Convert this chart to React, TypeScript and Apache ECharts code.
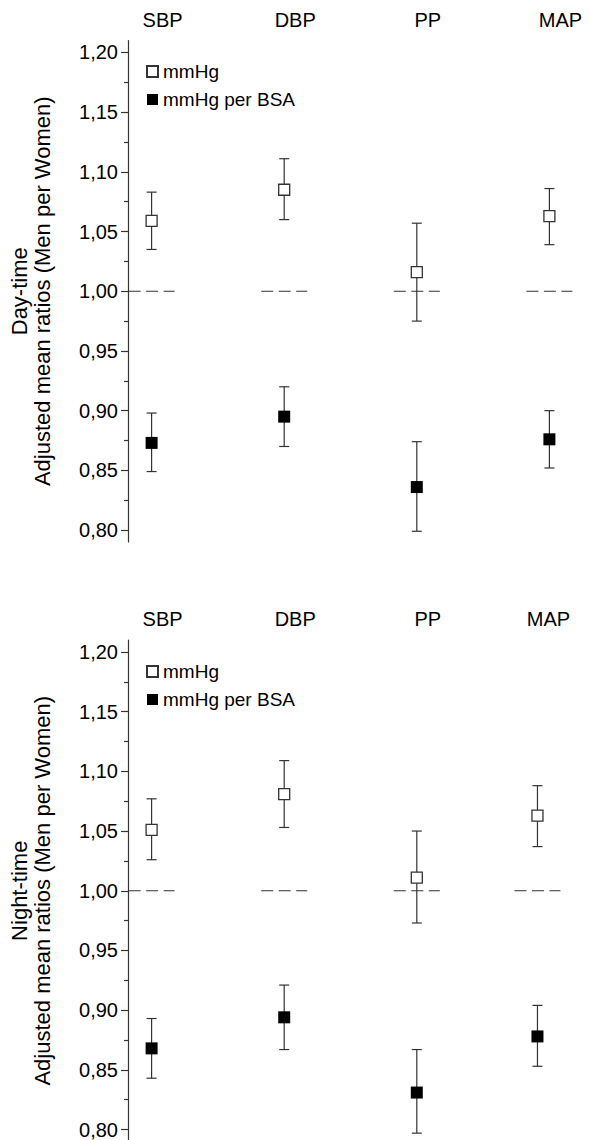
import React, { useEffect, useRef } from "react";
import * as echarts from "echarts";

// ---- data ----
const categories = ["SBP", "DBP", "PP", "MAP"];
const dayPos = [1, 2, 3, 4];
const nightPos = [1, 2, 3, 3.91];
const refValue = 1.0;

const dayMmHg = [1.059, 1.085, 1.016, 1.063];
const dayMmHgLow = [1.035, 1.06, 0.975, 1.039];
const dayMmHgHigh = [1.083, 1.111, 1.057, 1.086];
const dayBsa = [0.873, 0.895, 0.836, 0.876];
const dayBsaLow = [0.849, 0.87, 0.799, 0.852];
const dayBsaHigh = [0.898, 0.92, 0.874, 0.9];

const nightMmHg = [1.051, 1.081, 1.011, 1.063];
const nightMmHgLow = [1.026, 1.053, 0.973, 1.037];
const nightMmHgHigh = [1.077, 1.109, 1.05, 1.088];
const nightBsa = [0.868, 0.894, 0.831, 0.878];
const nightBsaLow = [0.843, 0.867, 0.797, 0.853];
const nightBsaHigh = [0.893, 0.921, 0.867, 0.904];

const yTicks = [0.8, 0.85, 0.9, 0.95, 1.0, 1.05, 1.1, 1.15, 1.2];
const yMinorTicks = [0.825, 0.875, 0.925, 0.975, 1.025, 1.075, 1.125, 1.175];

const FONT = "'Liberation Sans', Arial, sans-serif";
const AXIS_COLOR = "#333";

function errorBarSeries(name: string, pos: number[], lo: number[], hi: number[], xi: number, yi: number) {
  return {
    type: "custom",
    name: name + "-err",
    xAxisIndex: xi,
    yAxisIndex: yi,
    silent: true,
    encode: { x: 0, y: [1, 2] },
    data: pos.map((p, i) => [p, lo[i], hi[i]]),
    renderItem: (params: any, api: any) => {
      const t = api.coord([api.value(0), api.value(2)]);
      const b = api.coord([api.value(0), api.value(1)]);
      const hw = 5;
      const st = { stroke: AXIS_COLOR, lineWidth: 1.2 };
      return {
        type: "group",
        children: [
          { type: "line", shape: { x1: t[0], y1: t[1], x2: b[0], y2: b[1] }, style: st },
          { type: "line", shape: { x1: t[0] - hw, y1: t[1], x2: t[0] + hw, y2: t[1] }, style: st },
          { type: "line", shape: { x1: b[0] - hw, y1: b[1], x2: b[0] + hw, y2: b[1] }, style: st },
        ],
      };
    },
  };
}

function refSeries(pos: number[], xi: number, yi: number) {
  return {
    type: "custom",
    name: "ref",
    xAxisIndex: xi,
    yAxisIndex: yi,
    silent: true,
    encode: { x: 0, y: 1 },
    data: pos.map((p) => [p, refValue]),
    renderItem: (params: any, api: any) => {
      const c = api.coord([api.value(0), api.value(1)]);
      return {
        type: "line",
        shape: { x1: c[0] - 23, y1: c[1], x2: c[0] + 23, y2: c[1] },
        style: { stroke: "#333", lineWidth: 1.2, lineDash: [12, 5.5] },
      };
    },
  };
}

function markerSeries(name: string, pos: number[], vals: number[], open: boolean, xi: number, yi: number) {
  return {
    type: "scatter",
    name,
    xAxisIndex: xi,
    yAxisIndex: yi,
    symbol: "rect",
    symbolSize: open ? 11 : 12,
    z: 5,
    itemStyle: open
      ? { color: "#fff", borderColor: "#333", borderWidth: 1.3, opacity: 1 }
      : { color: "#000", borderColor: "#000", borderWidth: 0, opacity: 1 },
    data: pos.map((p, i) => [p, vals[i]]),
  };
}

function yAxes(gridIndex: number, title: string) {
  return [
    {
      type: "value",
      gridIndex,
      position: "left",
      min: 0.79,
      max: 1.21,
      offset: -109,
      splitLine: { show: false },
      axisLine: { show: true, lineStyle: { color: AXIS_COLOR, width: 1.2 } },
      axisTick: { show: true, customValues: yTicks, length: 7, inside: false, lineStyle: { color: AXIS_COLOR, width: 1.2 } },
      axisLabel: {
        customValues: yTicks,
        formatter: (v: number) => v.toFixed(2).replace(".", ","),
        fontSize: 20,
        fontFamily: FONT,
        color: "#000",
        margin: 10,
      },
      name: title,
      nameLocation: "middle",
      nameRotate: 90,
      nameGap: 74,
      nameTextStyle: { fontSize: 22, fontFamily: FONT, color: "#000", lineHeight: 23 },
    },
    {
      type: "value",
      gridIndex,
      position: "left",
      min: 0.79,
      max: 1.21,
      offset: -109,
      splitLine: { show: false },
      axisLine: { show: false },
      axisTick: { show: true, customValues: yMinorTicks, length: 4, lineStyle: { color: AXIS_COLOR, width: 1.2 } },
      axisLabel: { show: false },
    },
  ];
}

function xAxis(gridIndex: number, pos: number[]) {
  return {
    type: "value",
    gridIndex,
    position: "top",
    min: 0,
    max: 4.5,
    splitLine: { show: false },
    axisLine: { show: false },
    axisTick: { show: false },
    axisLabel: {
      customValues: pos,
      formatter: (v: number) => {
        const i = pos.findIndex((p) => Math.abs(p - v) < 1e-6);
        return i >= 0 ? categories[i] : "";
      },
      fontSize: 20,
      fontFamily: FONT,
      color: "#000",
      margin: 11,
      padding: [0, 0, 0, 22],
    },
  };
}

function legend(top: number) {
  return {
    orient: "vertical",
    left: 146,
    top,
    padding: 0,
    itemWidth: 11,
    itemHeight: 11,
    itemGap: 9,
    icon: "rect",
    data: ["mmHg", "mmHg per BSA"],
    textStyle: { fontSize: 19, fontFamily: FONT, color: "#000" },
    selectedMode: false,
  };
}

export default function App() {
  const ref = useRef<HTMLDivElement>(null);
  useEffect(() => {
    if (!ref.current) return;
    const chart = echarts.init(ref.current, undefined, { renderer: "svg" });
    const option: any = {
      animation: false,
      backgroundColor: "#fff",
      grid: [
        { left: 19, top: 40.5, width: 596.7, height: 501.5, outerBoundsMode: "none", containLabel: false },
        { left: 19, top: 640, width: 596.7, height: 501.5, outerBoundsMode: "none", containLabel: false },
      ],
      legend: [legend(62), legend(662)],
      xAxis: [xAxis(0, dayPos), xAxis(1, nightPos)],
      yAxis: [
        ...yAxes(0, "Day-time\nAdjusted mean ratios (Men per Women)"),
        ...yAxes(1, "Night-time\nAdjusted mean ratios (Men per Women)"),
      ],
      series: [
        refSeries(dayPos, 0, 0),
        errorBarSeries("mmHg", dayPos, dayMmHgLow, dayMmHgHigh, 0, 0),
        errorBarSeries("mmHg per BSA", dayPos, dayBsaLow, dayBsaHigh, 0, 0),
        markerSeries("mmHg", dayPos, dayMmHg, true, 0, 0),
        markerSeries("mmHg per BSA", dayPos, dayBsa, false, 0, 0),
        refSeries(nightPos, 1, 2),
        errorBarSeries("mmHg", nightPos, nightMmHgLow, nightMmHgHigh, 1, 2),
        errorBarSeries("mmHg per BSA", nightPos, nightBsaLow, nightBsaHigh, 1, 2),
        markerSeries("mmHg", nightPos, nightMmHg, true, 1, 2),
        markerSeries("mmHg per BSA", nightPos, nightBsa, false, 1, 2),
      ],
    };
    chart.setOption(option);
    return () => chart.dispose();
  }, []);
  return (
    <div
      ref={ref}
      style={{ position: "absolute", left: 0, top: 0, width: 589, height: 1140, background: "#fff" }}
    />
  );
}
